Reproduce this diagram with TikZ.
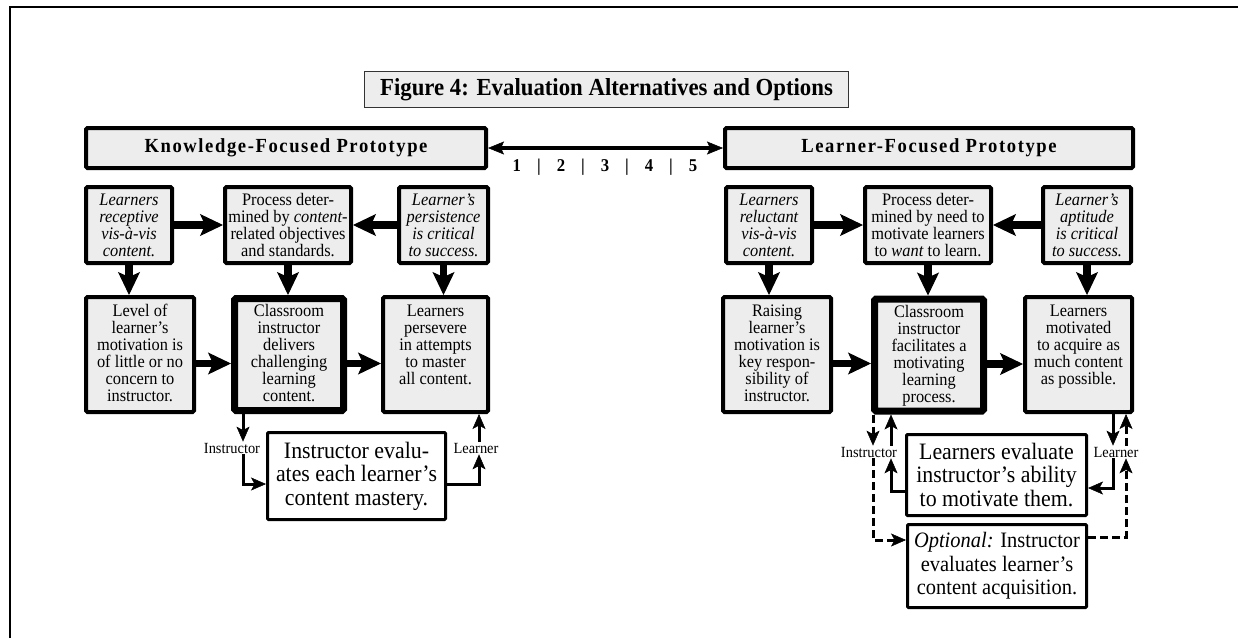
\documentclass[tikz,border=0pt]{standalone}
\usepackage{fontspec}
\setmainfont{Liberation Serif}[FakeStretch=0.93]
\newfontfamily\headfont{Liberation Serif}[FakeStretch=0.93, LetterSpace=8]
\usetikzlibrary{arrows.meta}
\definecolor{BoxGray}{RGB}{237,237,237}
\newcommand{\lowtext}[1]{\parbox[c][100pt][t]{98pt}{\centering #1}}

\begin{document}
\begin{tikzpicture}[x=1pt, y=-1pt,
  box/.style={draw, line width=4pt, fill=BoxGray, rounded corners=1.5pt, align=center, inner sep=2pt, font=\fontsize{17.6}{17}\selectfont},
  ibox/.style={box, font=\fontsize{17.6}{17}\selectfont\itshape},
  topbox/.style={minimum height=76pt},
  lowbox/.style={box, minimum height=115pt},
  hub/.style={lowbox, line width=7pt, minimum height=112pt},
  evalbox/.style={draw, line width=3pt, fill=white, rounded corners=1pt, align=center, inner sep=2pt, font=\fontsize{23.5}{23.5}\selectfont},
  head/.style={draw, line width=4pt, fill=BoxGray, minimum height=40pt, rounded corners=1.5pt, font=\headfont\fontsize{20}{22}\selectfont\bfseries},
  figtitle/.style={draw=black!80, line width=1.2pt, fill=BoxGray, minimum width=484pt, minimum height=36pt, font=\fontsize{24.5}{26}\selectfont\bfseries},
  who/.style={inner sep=1pt, font=\fontsize{15.5}{16}\selectfont},
  fat/.style={line width=7.5pt, -{Stealth[length=23pt, width=22pt, inset=5pt, line width=1pt]}},
  link/.style={line width=3pt, -{Stealth[length=15pt, width=13pt, inset=3.5pt, line width=0.5pt]}},
  opt/.style={link, dash pattern=on 8pt off 4pt},
  spanarrow/.style={line width=3.5pt, {Stealth[length=16pt, width=13pt, inset=3pt, line width=0.5pt]}-{Stealth[length=16pt, width=13pt, inset=3pt, line width=0.5pt]}}]
\useasboundingbox (0,0) rectangle (1238,638);
\draw[line width=2.5pt] (10,638) -- (10,7) -- (1238,7);

% title and scale
\node[figtitle] (fig) at (606.5,89.5) {Figure 4: Evaluation Alternatives and Options};
\node[head, minimum width=400pt] (kHead) at (286,148) {Knowledge-Focused Prototype};
\node[head, minimum width=408pt] (lHead) at (929,148) {Learner-Focused Prototype};
\draw[spanarrow] (kHead) -- (lHead);
\node[font=\fontsize{18}{20}\selectfont\bfseries] (degrees) at (605,167)
  {1\hspace{16pt}|\hspace{16pt}2\hspace{16pt}|\hspace{16pt}3\hspace{16pt}|\hspace{16pt}4\hspace{16pt}|\hspace{16pt}5};

% Knowledge-focused
\node[ibox, topbox, minimum width=86pt] (kRecept) at (129,225) {Learners\\receptive\\vis-à-vis\\content.};
\node[box, topbox, minimum width=126pt] (kProc) at (288,225) {Process deter-\\mined by \textit{content-}\\related objectives\\and standards.};
\node[ibox, topbox, minimum width=89pt] (kPersist) at (443.5,225) {Learner’s\\persistence\\is critical\\to success.};
\node[lowbox, minimum width=108pt] (kLevel) at (140,354.5) {\lowtext{Level of\\learner’s\\motivation is\\of little or no\\concern to\\instructor.}};
\node[hub, minimum width=109pt] (kClass) at (289,354.5) {\lowtext{Classroom\\instructor\\delivers\\challenging\\learning\\content.}};
\node[lowbox, minimum width=105pt] (kMaster) at (435.5,354.5) {\lowtext{Learners\\persevere\\in attempts\\to master\\all content.}};
\node[evalbox, minimum width=178pt, minimum height=87pt] (kEval) at (356.5,476) {Instructor evalu-\\ates each learner’s\\content mastery.};
\node[who] (insL) at (232,448) {Instructor};
\node[who] (learnL) at (476,448) {Learner};
\coordinate (kI) at (243,448);
\coordinate (kL) at (479,448);

\draw[fat] (kRecept) -- (kProc);
\draw[fat] (kPersist) -- (kProc);
\draw[fat] (kRecept.south) -- (kRecept.south |- kLevel.north);
\draw[fat] (kProc.south) -- (kProc.south |- kClass.north);
\draw[fat] (kPersist.south) -- (kPersist.south |- kMaster.north);
\draw[fat] ([yshift=-9pt]kLevel.east) -- ([yshift=-9pt]kLevel.east -| kClass.west);
\draw[fat] ([yshift=-9pt]kClass.east) -- ([yshift=-9pt]kClass.east -| kMaster.west);
\draw[link] (kClass.south -| kI) -- (insL.north -| kI);
\draw[link] (insL.south -| kI) |- ([yshift=-8pt]kEval.west);
\draw[link] ([yshift=-8pt]kEval.east) -| (learnL.south -| kL);
\draw[link] (learnL.north -| kL) -- (kMaster.south -| kL);

% Learner-focused
\node[ibox, topbox, minimum width=86pt] (lReluct) at (769,225) {Learners\\reluctant\\vis-à-vis\\content.};
\node[box, topbox, minimum width=126pt, inner xsep=1pt] (lProc) at (928,225) {Process deter-\\mined by need to\\motivate learners\\to \textit{want} to learn.};
\node[ibox, topbox, minimum width=88pt] (lApt) at (1087,225) {Learner’s\\aptitude\\is critical\\to success.};
\node[lowbox, minimum width=108pt] (lRaise) at (777,354.5) {\lowtext{Raising\\learner’s\\motivation is\\key respon-\\sibility of\\instructor.}};
\node[hub, minimum width=109pt] (lClass) at (929,355) {\lowtext{Classroom\\instructor\\facilitates a\\motivating\\learning\\process.}};
\node[lowbox, minimum width=107pt] (lAcquire) at (1078.5,354.5) {\lowtext{Learners\\motivated\\to acquire as\\much content\\as possible.}};
\node[evalbox, minimum width=180pt, minimum height=81pt] (lEval) at (996.5,475) {Learners evaluate\\instructor’s ability\\to motivate them.};
\node[evalbox, minimum width=179pt, minimum height=83pt, font=\fontsize{22}{23.5}\selectfont] (lOpt) at (997,566) {\textit{Optional:} Instructor\\evaluates learner’s\\content acquisition.};
\node[who] (insR) at (869,452) {Instructor};
\node[who] (learnR) at (1116,452) {Learner};
\coordinate (rIa) at (873,452);
\coordinate (rIb) at (891,452);
\coordinate (rLa) at (1113,452);
\coordinate (rLb) at (1126,452);

\draw[fat] (lReluct) -- (lProc);
\draw[fat] (lApt) -- (lProc);
\draw[fat] (lReluct.south) -- (lReluct.south |- lRaise.north);
\draw[fat] (lProc.south) -- (lProc.south |- lClass.north);
\draw[fat] (lApt.south) -- (lApt.south |- lAcquire.north);
\draw[fat] ([yshift=-9pt]lRaise.east) -- ([yshift=-9pt]lRaise.east -| lClass.west);
\draw[fat] ([yshift=-9pt]lClass.east) -- ([yshift=-9pt]lClass.east -| lAcquire.west);
\draw[opt] (lClass.south -| rIa) -- (insR.north -| rIa);
\draw[opt] (insR.south -| rIa) |- ([yshift=26pt]lOpt.west);
\draw[link] ([yshift=-16pt]lEval.west) -| (insR.south -| rIb);
\draw[link] (insR.north -| rIb) -- (lClass.south -| rIb);
\draw[link] (lAcquire.south -| rLa) -- (learnR.north -| rLa);
\draw[link] (learnR.south -| rLa) |- ([yshift=-13pt]lEval.east);
\draw[opt] ([yshift=29pt]lOpt.east) -| (learnR.south -| rLb);
\draw[opt] (learnR.north -| rLb) -- (lAcquire.south -| rLb);
\end{tikzpicture}
\end{document}
